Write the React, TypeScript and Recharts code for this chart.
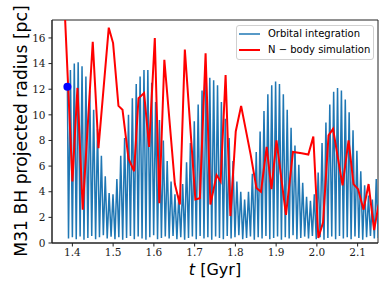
import { LineChart, Line, XAxis, YAxis, ReferenceDot, ReferenceArea, Legend } from "recharts";

// axis ticks
const xTicks = [1.4, 1.5, 1.6, 1.7, 1.8, 1.9, 2.0, 2.1];
const yTicks = [0, 2, 4, 6, 8, 10, 12, 14, 16];

// orbital integration: start point, then alternating troughs / peaks
const orbitStartTime = 1.3878;
const orbitStartRadius = 12.2;

const orbitTroughTime = [
  1.3905, 1.4, 1.4095, 1.419, 1.4285, 1.438, 1.4475, 1.457, 1.4665, 1.476,
  1.4855, 1.495, 1.5045, 1.514, 1.5235, 1.533, 1.5425, 1.552, 1.5615, 1.571,
  1.5805, 1.59, 1.5995, 1.609, 1.6185, 1.628, 1.6375, 1.647, 1.6565, 1.666,
  1.6755, 1.685, 1.6945, 1.704, 1.7135, 1.723, 1.7325, 1.742, 1.7515, 1.761,
  1.7705, 1.78, 1.7895, 1.799, 1.8085, 1.818, 1.8275, 1.837, 1.8465, 1.856,
  1.8655, 1.875, 1.8845, 1.894, 1.9035, 1.913, 1.9225, 1.932, 1.9415, 1.951,
  1.9605, 1.97, 1.9795, 1.989, 1.9985, 2.008, 2.0175, 2.027, 2.0365, 2.046,
  2.0555, 2.065, 2.0745, 2.084, 2.0935, 2.103, 2.1125, 2.122, 2.1315, 2.141,
  2.1505,
];
const orbitTroughRadius = [
  0.35, 0.45, 0.3, 0.5, 0.25, 0.4, 0.55, 0.3, 0.45, 0.6,
  0.35, 0.5, 0.3, 0.45, 0.25, 0.4, 0.55, 0.3, 0.5, 0.35,
  0.25, 0.45, 0.6, 0.3, 0.4, 0.5, 0.35, 0.55, 0.3, 0.45,
  0.25, 0.4, 0.5, 0.3, 0.55, 0.35, 0.45, 0.25, 0.5, 0.4,
  0.3, 0.55, 0.35, 0.45, 0.6, 0.3, 0.4, 0.5, 0.25, 0.45,
  0.35, 0.55, 0.3, 0.4, 0.5, 0.25, 0.45, 0.35, 0.6, 0.3,
  0.4, 0.5, 0.35, 0.55, 0.3, 0.45, 0.25, 0.4, 0.5, 0.3,
  0.55, 0.35, 0.45, 0.3, 0.5, 0.4, 0.25, 0.45, 0.55, 0.35,
  0.4,
];
const orbitPeakTime = [
  1.3952, 1.4047, 1.4142, 1.4237, 1.4332, 1.4427, 1.4522, 1.4617, 1.4712, 1.4807,
  1.4902, 1.4997, 1.5092, 1.5187, 1.5282, 1.5377, 1.5472, 1.5567, 1.5662, 1.5757,
  1.5852, 1.5947, 1.6042, 1.6137, 1.6232, 1.6327, 1.6422, 1.6517, 1.6612, 1.6707,
  1.6802, 1.6897, 1.6992, 1.7087, 1.7182, 1.7277, 1.7372, 1.7467, 1.7562, 1.7657,
  1.7752, 1.7847, 1.7942, 1.8037, 1.8132, 1.8227, 1.8322, 1.8417, 1.8512, 1.8607,
  1.8702, 1.8797, 1.8892, 1.8987, 1.9082, 1.9177, 1.9272, 1.9367, 1.9462, 1.9557,
  1.9652, 1.9747, 1.9842, 1.9937, 2.0032, 2.0127, 2.0222, 2.0317, 2.0412, 2.0507,
  2.0602, 2.0697, 2.0792, 2.0887, 2.0982, 2.1077, 2.1172, 2.1267, 2.1362, 2.1457,
];
const orbitPeakRadius = [
  13.5, 14.0, 14.1, 13.8, 13.0, 11.9, 10.4, 8.9, 6.8, 5.2,
  3.9, 3.8, 5.0, 6.8, 8.2, 10.0, 11.3, 12.4, 13.0, 13.5,
  13.5, 12.5, 11.0, 9.6, 8.0, 6.4, 4.8, 3.8, 3.7, 4.6,
  6.3, 7.8, 9.5, 10.8, 11.9, 12.8, 12.9, 12.7, 12.3, 11.0,
  9.7, 8.2, 6.4, 4.8, 4.0, 3.4, 4.0, 5.4, 7.1, 8.7,
  10.3, 11.6, 12.3, 12.6, 12.4, 11.6, 10.4, 9.0, 7.6, 6.1,
  4.7, 3.6, 3.3, 3.8, 5.5, 7.8, 9.4, 10.8, 11.8, 12.1,
  11.9, 11.2, 10.2, 8.8, 7.2, 5.6, 4.5, 3.7, 3.4, 5.0,
];

// N-body simulation
const nbodyTime = [
  1.38, 1.4001, 1.4124, 1.4254, 1.45, 1.464, 1.4893, 1.4999, 1.5131, 1.523,
  1.5377, 1.5515, 1.5623, 1.576, 1.5883, 1.6023, 1.6134, 1.6257, 1.6515, 1.6638,
  1.676, 1.7018, 1.7129, 1.7269, 1.7387, 1.7539, 1.7638, 1.776, 1.7878, 1.8009,
  1.8141, 1.8375, 1.8517, 1.8628, 1.8768, 1.8886, 1.9009, 1.9242, 1.9414, 1.9628,
  1.979, 1.9913, 2.0036, 2.0151, 2.0286, 2.0397, 2.0507, 2.063, 2.0778, 2.09,
  2.1011, 2.1146, 2.1269, 2.1404, 2.1515,
];
const nbodyRadius = [
  19.0, 4.8, 12.1, 2.6, 15.7, 7.4, 16.8, 15.6, 10.7, 10.4,
  6.6, 5.6, 11.3, 11.7, 7.5, 16.0, 3.1, 14.3, 4.6, 3.0,
  15.1, 3.4, 3.5, 14.8, 3.0, 5.3, 4.8, 13.1, 2.1, 8.7,
  10.7, 6.9, 4.3, 4.0, 7.5, 4.2, 8.0, 2.2, 7.1, 7.0,
  6.9, 8.3, 0.4, 1.6, 8.4, 8.9, 6.8, 4.5, 8.0, 4.6,
  4.2, 2.6, 4.6, 1.0, 3.0,
];

const orbitData = [{ t: orbitStartTime, r: orbitStartRadius }];
orbitTroughTime.forEach((t, i) => {
  orbitData.push({ t, r: orbitTroughRadius[i] });
  if (i < orbitPeakTime.length) orbitData.push({ t: orbitPeakTime[i], r: orbitPeakRadius[i] });
});
const nbodyData = nbodyTime.map((t, i) => ({ t, r: nbodyRadius[i] }));

const BLUE = "#1f77b4";
const RED = "#ff0000";

const legendItems = [
  { name: "Orbital integration", color: BLUE, width: 1.5 },
  { name: "N \u2212 body simulation", color: RED, width: 2 },
];

const tickStyle = { fontFamily: "DejaVu Serif", fontSize: 10.5, fill: "#1a1a1a" };

const LegendBox = () => (
  <div
    style={{
      width: 138,
      height: 35,
      boxSizing: "border-box",
      border: "1px solid #d0d0d0",
      borderRadius: 3,
      background: "rgba(255,255,255,0.8)",
      fontFamily: "DejaVu Sans",
      fontSize: 10,
      color: "#000",
    }}
  >
    {legendItems.map((it) => (
      <div key={it.name} style={{ height: 16, lineHeight: "16px", display: "flex", alignItems: "center" }}>
        <svg width={31} height={16} style={{ flex: "none" }}>
          <line x1={2} x2={23} y1={8} y2={8} stroke={it.color} strokeWidth={it.width} />
        </svg>
        <span style={{ whiteSpace: "nowrap" }}>{it.name}</span>
      </div>
    ))}
  </div>
);

const XLabel = () => (
  <text x={215} y={275} textAnchor="middle" fontFamily="DejaVu Sans" fontSize={16} fill="#000">
    <tspan fontStyle="italic">t</tspan> [Gyr]
  </text>
);

const YLabel = () => (
  <text transform="translate(27,131) rotate(-90)" x={0} y={0} textAnchor="middle" fontFamily="DejaVu Sans" fontSize={17.2} fill="#000">
    M31 BH projected radius [pc]
  </text>
);

export default function App() {
  return (
    <div style={{ position: "absolute", left: 0, top: 0, width: 390, height: 293, background: "#fff" }}>
      <LineChart width={390} height={293} margin={{ top: 20, right: 12, bottom: 0, left: 0 }}>
        <XAxis
          type="number"
          dataKey="t"
          domain={[1.35, 2.15]}
          ticks={xTicks}
          allowDataOverflow
          height={50}
          tickSize={3.5}
          tickMargin={2}
          stroke="#222"
          tick={tickStyle}
          tickFormatter={(v) => v.toFixed(1)}
          label={XLabel}
        />
        <YAxis
          type="number"
          domain={[0, 17.4]}
          ticks={yTicks}
          allowDataOverflow
          width={52}
          tickSize={3.5}
          tickMargin={3}
          stroke="#222"
          tick={tickStyle}
          label={YLabel}
        />
        <ReferenceArea x1={1.35} x2={2.15} y1={0} y2={17.4} fill="none" stroke="#222" strokeWidth={1} ifOverflow="visible" />
        <Line data={orbitData} dataKey="r" type="linear" stroke={BLUE} strokeWidth={1.5} dot={false} isAnimationActive={false} />
        <Line data={nbodyData} dataKey="r" type="linear" stroke={RED} strokeWidth={2} dot={false} isAnimationActive={false} />
        <ReferenceDot x={orbitStartTime} y={orbitStartRadius} r={4} fill="#0000ff" stroke="none" />
        <Legend
          layout="vertical"
          align="center"
          verticalAlign="middle"
          wrapperStyle={{ left: 236, top: 25, width: 138, height: 35 }}
          content={() => <LegendBox />}
        />
      </LineChart>
    </div>
  );
}
